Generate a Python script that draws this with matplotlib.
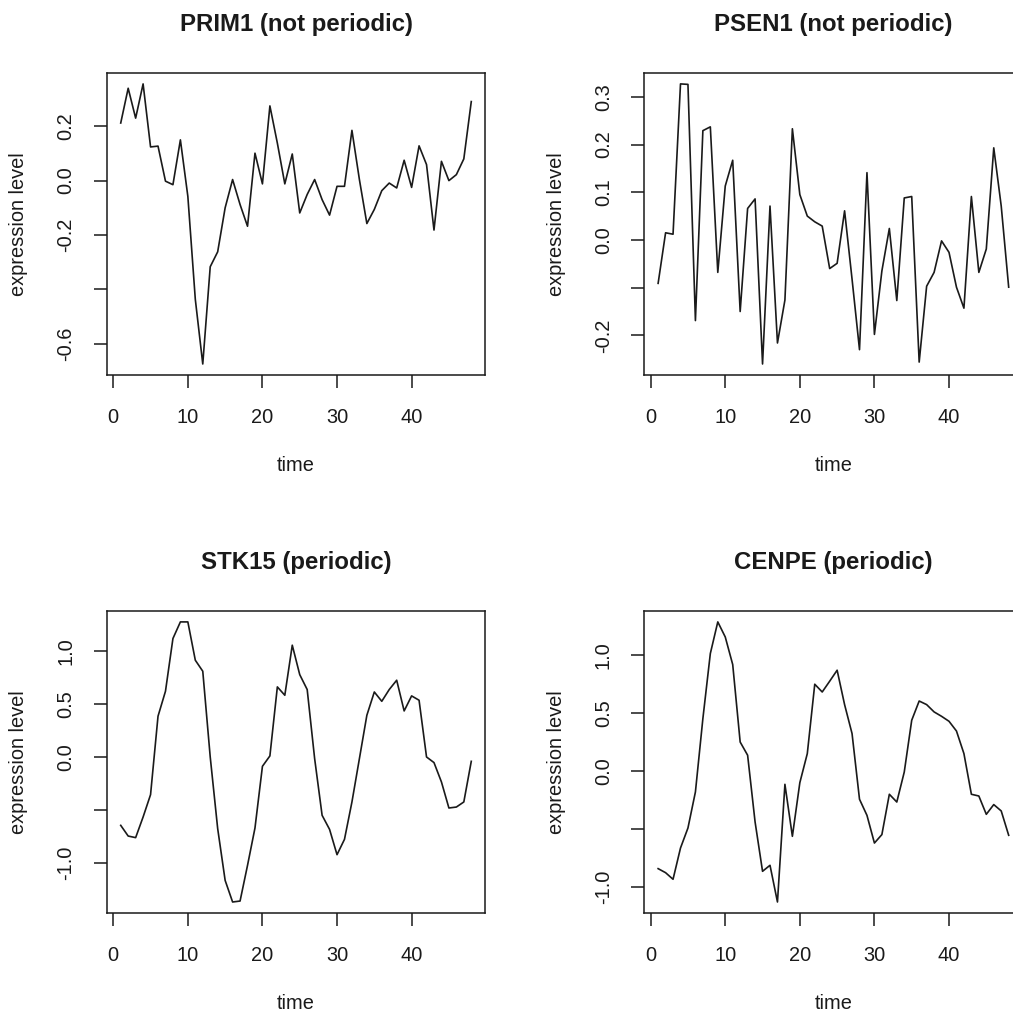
import numpy as np
import matplotlib.pyplot as plt

time = np.arange(1, 49)

prim1 = [0.212, 0.340, 0.230, 0.356, 0.124, 0.127, -0.002, -0.015, 0.150, -0.058,
         -0.437, -0.675, -0.317, -0.262, -0.100, 0.004, -0.088, -0.168, 0.101, -0.012,
         0.275, 0.138, -0.012, 0.098, -0.119, -0.051, 0.004, -0.070, -0.127, -0.021,
         -0.021, 0.185, 0.004, -0.158, -0.106, -0.037, -0.009, -0.027, 0.075, -0.025,
         0.128, 0.059, -0.182, 0.071, 0.000, 0.022, 0.080, 0.291]

psen1 = [-0.091, 0.015, 0.012, 0.327, 0.326, -0.169, 0.229, 0.237, -0.068, 0.113,
         0.167, -0.150, 0.066, 0.086, -0.260, 0.071, -0.216, -0.126, 0.233, 0.095,
         0.050, 0.038, 0.029, -0.060, -0.049, 0.061, -0.082, -0.230, 0.141, -0.198,
         -0.065, 0.024, -0.127, 0.088, 0.091, -0.256, -0.097, -0.068, -0.002, -0.026,
         -0.099, -0.143, 0.091, -0.068, -0.019, 0.193, 0.071, -0.099]

stk15 = [-0.643, -0.744, -0.759, -0.564, -0.353, 0.388, 0.624, 1.122, 1.279, 1.279,
         0.917, 0.813, 0.003, -0.674, -1.163, -1.367, -1.358, -1.021, -0.668, -0.085,
         0.013, 0.665, 0.586, 1.059, 0.781, 0.640, -0.013, -0.548, -0.681, -0.920,
         -0.775, -0.422, -0.013, 0.397, 0.617, 0.529, 0.640, 0.728, 0.438, 0.580,
         0.539, 0.003, -0.050, -0.233, -0.479, -0.470, -0.422, -0.038]

cenpe = [-0.843, -0.878, -0.935, -0.665, -0.492, -0.181, 0.452, 1.014, 1.287, 1.157,
         0.919, 0.250, 0.136, -0.440, -0.866, -0.814, -1.131, -0.115, -0.564, -0.101,
         0.150, 0.749, 0.682, 0.775, 0.870, 0.573, 0.323, -0.244, -0.383, -0.622,
         -0.549, -0.201, -0.268, -0.009, 0.438, 0.604, 0.573, 0.510, 0.472, 0.429,
         0.345, 0.150, -0.201, -0.216, -0.374, -0.290, -0.345, -0.555]

titles = ["PRIM1 (not periodic)", "PSEN1 (not periodic)", "STK15 (periodic)", "CENPE (periodic)"]
series = [prim1, psen1, stk15, cenpe]
yticks = [[-0.6, -0.4, -0.2, 0.0, 0.2],
          [-0.2, -0.1, 0.0, 0.1, 0.2, 0.3],
          [-1.0, -0.5, 0.0, 0.5, 1.0],
          [-1.0, -0.5, 0.0, 0.5, 1.0]]
ytick_labels = [["-0.6", "", "-0.2", "0.0", "0.2"],
                ["-0.2", "", "0.0", "0.1", "0.2", "0.3"],
                ["-1.0", "", "0.0", "0.5", "1.0"],
                ["-1.0", "", "0.0", "0.5", "1.0"]]
xticks = [0, 10, 20, 30, 40]

plt.rcParams['font.family'] = ['Liberation Sans', 'DejaVu Sans']
ink = '#1a1a1a'

W, H = 1013, 1015
fig = plt.figure(figsize=(W / 100, H / 100), dpi=100)

# axes boxes in pixels: left, top
boxes = [(106.7, 72.7), (644.1, 72.7), (106.7, 610.7), (644.1, 610.7)]
bw, bh = 378.6, 302.5

for i in range(4):
    left, top = boxes[i]
    ax = fig.add_axes([left / W, 1 - (top + bh) / H, bw / W, bh / H])
    ax.plot(time, series[i], color=ink, lw=1.2)
    ax.set_xlim(-0.88, 49.88)
    ax.margins(y=0.04)
    ax.set_xticks(xticks)
    ax.set_xticklabels([str(t) for t in xticks])
    ax.set_yticks(yticks[i])
    ax.set_yticklabels(ytick_labels[i], rotation=90, va='center')
    ax.tick_params(direction='out', length=9.5, width=1.1, color=ink,
                   labelsize=14.4, labelcolor=ink)
    ax.tick_params(axis='x', pad=14)
    ax.tick_params(axis='y', pad=13)
    for s in ax.spines.values():
        s.set_linewidth(1.1)
        s.set_color(ink)
    ax.set_title(titles[i], fontsize=17.3, fontweight='bold', color=ink, pad=30)
    ax.set_xlabel("time", fontsize=14.4, color=ink, va='center')
    ax.xaxis.set_label_coords(0.5, -90 / bh)
    ax.set_ylabel("expression level", fontsize=14.4, color=ink, va='center')
    ax.yaxis.set_label_coords(-88 / bw, 0.5)

fig.savefig("out.png", dpi=100)
